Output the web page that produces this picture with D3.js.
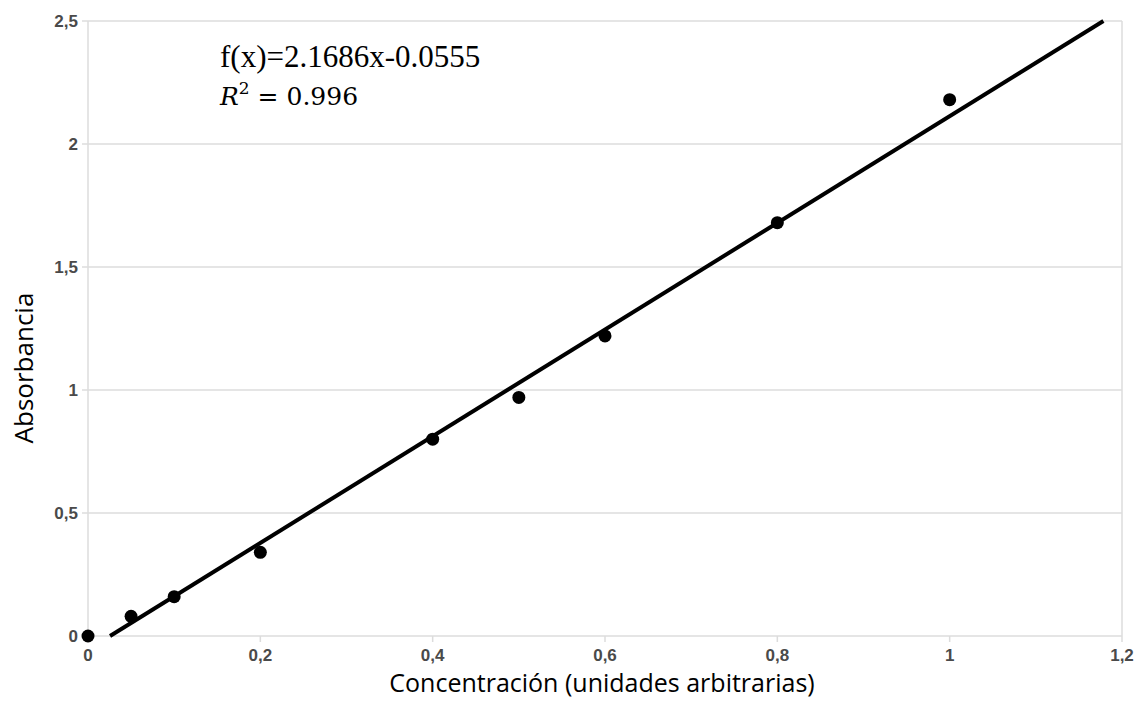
<!DOCTYPE html>
<html><head><meta charset="utf-8">
<script src="https://cdn.jsdelivr.net/npm/d3@7"></script>
<style>body{margin:0;background:#fff}svg{display:block}</style>
</head><body>
<svg id="c" width="1136" height="701"></svg>
<script>
const concentration = [0, 0.05, 0.1, 0.2, 0.4, 0.5, 0.6, 0.8, 1.0];
const absorbance   = [0, 0.08, 0.16, 0.34, 0.80, 0.97, 1.22, 1.68, 2.18];
const xTicks = [0, 0.2, 0.4, 0.6, 0.8, 1, 1.2];
const yTicks = [0, 0.5, 1, 1.5, 2, 2.5];
const slope = 2.1686, intercept = -0.0555;
const fitLabel = "f(x)=2.1686x-0.0555";
const r2Label = "0.996";

const svg = d3.select("#c");
const m = {l: 88, r: 1136 - 1122, t: 21, b: 701 - 636};
const W = 1136, H = 701;
const x = d3.scaleLinear().domain([0, 1.2]).range([m.l, W - m.r]);
const y = d3.scaleLinear().domain([0, 2.5]).range([H - m.b, m.t]);
const fmt = d => d3.format("")(d).replace(".", ",");

// gridlines
svg.append("g").selectAll("line").data(yTicks).join("line")
  .attr("x1", x(0) - 6).attr("x2", x(1.2)).attr("y1", d => y(d)).attr("y2", d => y(d))
  .attr("stroke", "#dcdcdc").attr("stroke-width", 1.5);
svg.append("g").selectAll("line").data([0, 1.2]).join("line")
  .attr("x1", d => x(d)).attr("x2", d => x(d)).attr("y1", y(2.5)).attr("y2", y(0) + 6)
  .attr("stroke", "#dcdcdc").attr("stroke-width", 1.5);
svg.append("g").selectAll("line").data(xTicks.slice(1, -1)).join("line")
  .attr("x1", d => x(d)).attr("x2", d => x(d)).attr("y1", y(0)).attr("y2", y(0) + 6)
  .attr("stroke", "#dcdcdc").attr("stroke-width", 1.5);

// tick labels
svg.append("g").selectAll("text").data(yTicks).join("text")
  .attr("x", x(0) - 10).attr("y", d => y(d)).attr("dy", "0.35em")
  .attr("text-anchor", "end").attr("font-family", "Liberation Sans, Arial, sans-serif")
  .attr("font-size", 17).attr("font-weight", "bold").attr("fill", "#4a4a4a")
  .text(fmt);
svg.append("g").selectAll("text").data(xTicks).join("text")
  .attr("x", d => x(d)).attr("y", y(0) + 25)
  .attr("text-anchor", "middle").attr("font-family", "Liberation Sans, Arial, sans-serif")
  .attr("font-size", 17).attr("font-weight", "bold").attr("fill", "#4a4a4a")
  .text(fmt);

// fit line
const x0 = -intercept / slope, x1 = (2.5 - intercept) / slope;
svg.append("path")
  .datum([x0, x1])
  .attr("d", d3.line().x(d => x(d)).y(d => y(slope * d + intercept)))
  .attr("stroke", "#000").attr("stroke-width", 4).attr("fill", "none");

// points
svg.append("g").selectAll("circle").data(concentration).join("circle")
  .attr("cx", d => x(d)).attr("cy", (d, i) => y(absorbance[i])).attr("r", 6.5).attr("fill", "#000");

// equation
svg.append("text").attr("x", 220).attr("y", 67)
  .attr("font-family", "Liberation Serif, Times New Roman, serif").attr("font-size", 31)
  .attr("fill", "#000").text(fitLabel);
const r2 = svg.append("text").attr("x", 220).attr("y", 105)
  .attr("font-family", "DejaVu Serif, Liberation Serif, serif").attr("font-size", 25).attr("fill", "#000");
r2.append("tspan").attr("font-style", "italic").text("R");
r2.append("tspan").attr("font-size", 17).attr("dy", -11).text("2");
r2.append("tspan").attr("dy", 11).text(" = " + r2Label);

// axis titles
svg.append("text").attr("x", 602).attr("y", 692)
  .attr("text-anchor", "middle").attr("font-family", "Open Sans, sans-serif")
  .attr("font-size", 25).attr("fill", "#000").text("Concentración (unidades arbitrarias)");
svg.append("text").attr("transform", `translate(33,368) rotate(-90)`)
  .attr("text-anchor", "middle").attr("font-family", "Open Sans, sans-serif")
  .attr("font-size", 26).attr("fill", "#000").text("Absorbancia");
</script>
</body></html>
